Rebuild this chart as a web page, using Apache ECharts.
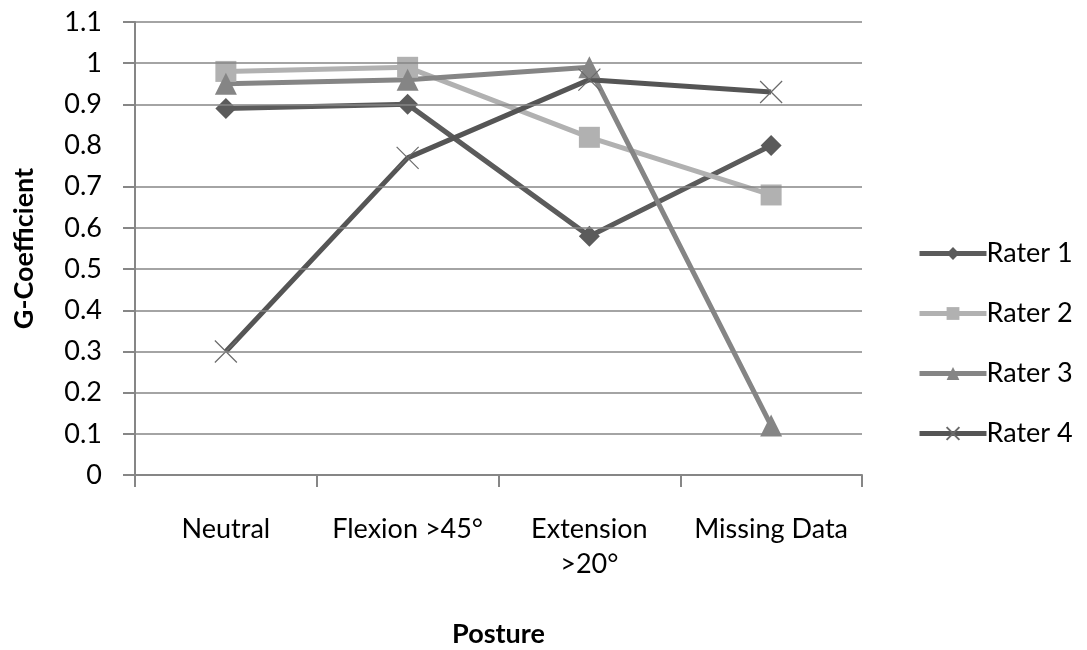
<!DOCTYPE html>
<html>
<head>
<meta charset="utf-8">
<title>G-Coefficient by Posture</title>
<script src="https://cdn.jsdelivr.net/npm/echarts@6/dist/echarts.min.js"></script>
<style>
  html, body { margin: 0; padding: 0; background: #fff; }
  #chart { width: 1087px; height: 650px; }
</style>
</head>
<body>
<div id="chart"></div>
<script>
// Postures on the category axis
const categories = ['Neutral', 'Flexion >45°', 'Extension\n>20°', 'Missing Data'];

// G-coefficient per rater
const rater1 = [0.89, 0.90, 0.58, 0.80];
const rater2 = [0.98, 0.99, 0.82, 0.68];
const rater3 = [0.95, 0.96, 0.99, 0.12];
const rater4 = [0.30, 0.77, 0.96, 0.93];

const seriesNames = ['Rater 1', 'Rater 2', 'Rater 3', 'Rater 4'];

// horizontal grid lines / y ticks that are drawn (0.8 has none)
const gridValues = [0, 0.1, 0.2, 0.3, 0.4, 0.5, 0.6, 0.7, 0.9, 1.0, 1.1];

const FONT = 'Lato, "Open Sans", sans-serif';
const AXIS_GREY = '#868686';
const crossPath = 'path://M0,0L10,10M10,0L0,10';

function makeSeries(name, data, color, symbol, size, extra) {
  return Object.assign({
    name: name,
    type: 'line',
    data: data,
    symbol: symbol,
    symbolSize: size,
    lineStyle: { color: color, width: 5 },
    itemStyle: { color: color },
    emphasis: { disabled: true },
    z: 3
  }, extra || {});
}

const chart = echarts.init(document.getElementById('chart'));
chart.setOption({
  animation: false,
  backgroundColor: '#fff',
  grid: { left: 135, right: 225, top: 22, bottom: 175, containLabel: false, outerBoundsMode: 'none' },
  legend: {
    orient: 'vertical',
    left: 912,
    top: 235,
    itemWidth: 67,
    itemHeight: 16,
    itemGap: 33,
    lineStyle: { width: 5 },
    textStyle: { fontFamily: FONT, fontSize: 27, color: '#000', padding: [0, 0, 0, -5] },
    data: seriesNames
  },
  xAxis: {
    type: 'category',
    data: categories,
    boundaryGap: true,
    name: 'Posture',
    nameLocation: 'middle',
    nameGap: 146,
    nameTextStyle: { fontFamily: FONT, fontSize: 27, fontWeight: 'bold', color: '#000' },
    axisLine: { lineStyle: { color: AXIS_GREY, width: 2 } },
    axisTick: { show: true, length: 12, lineStyle: { color: AXIS_GREY, width: 2 } },
    axisLabel: { fontFamily: FONT, fontSize: 27, color: '#000', margin: 37, lineHeight: 35, interval: 0 },
    splitLine: { show: false }
  },
  yAxis: {
    type: 'value',
    min: 0,
    max: 1.1,
    interval: 0.1,
    name: 'G-Coefficient',
    nameLocation: 'middle',
    nameGap: 97,
    nameRotate: 90,
    nameTextStyle: { fontFamily: FONT, fontSize: 27, fontWeight: 'bold', color: '#000' },
    axisLine: { show: true, lineStyle: { color: AXIS_GREY, width: 2 } },
    axisTick: { show: true, length: 12, customValues: gridValues, lineStyle: { color: AXIS_GREY, width: 2 } },
    axisLabel: {
      fontFamily: FONT, fontSize: 27, color: '#000', margin: 33,
      formatter: function (v) { return String(Math.round(v * 10) / 10); }
    },
    splitLine: { show: false }
  },
  series: [
    {
      name: 'grid',
      type: 'line',
      data: [],
      silent: true,
      z: 1,
      markLine: {
        silent: true,
        symbol: ['none', 'none'],
        label: { show: false },
        lineStyle: { color: AXIS_GREY, width: 1.5, type: 'solid' },
        emphasis: { disabled: true },
        data: gridValues.filter(function (v) { return v > 0; }).map(function (v) { return { yAxis: v }; })
      }
    },
    makeSeries('Rater 1', rater1, '#5b5b5b', 'diamond', 21),
    makeSeries('Rater 2', rater2, '#b1b1b1', 'rect', 21),
    makeSeries('Rater 3', rater3, '#858585', 'triangle', 22),
    makeSeries('Rater 4', rater4, '#555555', crossPath, 22, {
      itemStyle: { color: 'rgba(0,0,0,0)', borderColor: '#6a6a6a', borderWidth: 1.2 }
    })
  ]
});
</script>
</body>
</html>
